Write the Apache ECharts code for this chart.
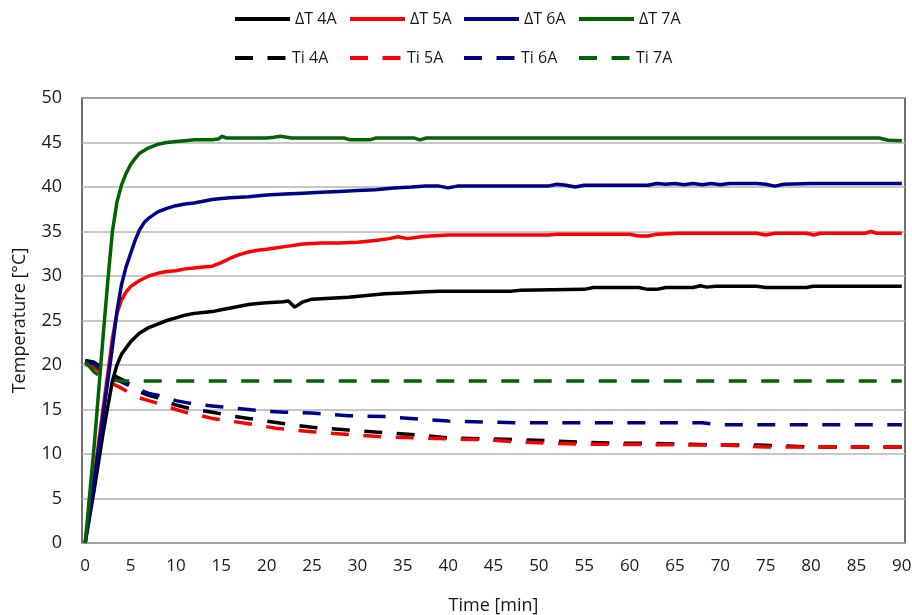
<!DOCTYPE html>
<html>
<head>
<meta charset="utf-8">
<script src="https://cdn.jsdelivr.net/npm/echarts@6/dist/echarts.min.js"></script>
<style>
html,body{margin:0;padding:0;background:#fff;}
#chart{width:912px;height:615px;}
</style>
</head>
<body>
<div id="chart"></div>
<script>
// ---- data: [time (min), temperature (°C)] ----
const dT4A = [[0,0],[1,6],[2,12.5],[3,18.2],[3.5,20],[4,21.2],[5,22.6],[6,23.6],[7,24.2],[8,24.6],[9,25],[10,25.3],[11,25.6],[12,25.8],[13,25.9],[14,26],[15,26.2],[16,26.4],[17,26.6],[18,26.8],[19,26.9],[20,27],[21.8,27.1],[22.4,27.2],[23.1,26.5],[24,27.1],[25,27.4],[27,27.5],[29,27.6],[31,27.8],[33,28],[35,28.1],[37,28.2],[39,28.3],[47,28.3],[48,28.4],[55,28.5],[56,28.7],[61,28.7],[62,28.5],[63,28.5],[64,28.7],[67,28.7],[67.8,28.9],[68.5,28.75],[69.5,28.85],[74,28.85],[75,28.7],[79.5,28.7],[80.2,28.85],[90,28.85]];
const dT5A = [[0,0],[1,7.5],[2,15.3],[2.75,21],[3,23],[3.5,25.8],[4,27.3],[4.5,28.2],[5,28.8],[6,29.5],[7,30],[8,30.3],[9,30.5],[10,30.6],[11,30.8],[12,30.9],[13,31],[14,31.1],[15,31.5],[16,32],[17,32.4],[18,32.7],[19,32.9],[20,33],[22,33.3],[24,33.6],[26,33.7],[28,33.7],[30,33.8],[32,34],[33.5,34.2],[34.5,34.4],[35.5,34.2],[37,34.4],[38,34.5],[40,34.6],[51,34.6],[52,34.7],[60,34.7],[61,34.5],[62,34.5],[63,34.7],[65.5,34.8],[74,34.8],[75,34.6],[76,34.8],[79.5,34.8],[80.3,34.6],[81,34.8],[86,34.8],[86.6,35.0],[87.2,34.8],[90,34.8]];
const dT6A = [[0,0],[1,7],[2,14.5],[3,22],[3.5,26],[4,29],[4.5,31],[5,32.5],[5.5,34],[6,35.2],[6.5,36],[7,36.5],[8,37.2],[9,37.6],[10,37.9],[11,38.1],[12,38.2],[13,38.4],[14,38.6],[15,38.7],[16,38.8],[18,38.9],[20,39.1],[22,39.2],[24,39.3],[26,39.4],[28,39.5],[30,39.6],[32,39.7],[34,39.9],[36,40],[37.5,40.1],[39,40.1],[40,39.9],[41,40.1],[51,40.1],[52,40.3],[53,40.2],[54,40.0],[55,40.2],[62,40.2],[63,40.4],[64,40.3],[65,40.4],[66,40.25],[67,40.4],[68,40.25],[69,40.4],[70,40.25],[71,40.4],[74,40.4],[75,40.3],[76,40.1],[77,40.3],[80,40.4],[90,40.4]];
const dT7A = [[0,0],[1,11],[2,23.5],[2.5,29.5],[3,35],[3.5,38.3],[4,40.2],[4.5,41.5],[5,42.5],[5.5,43.2],[6,43.8],[7,44.4],[8,44.8],[9,45],[10,45.1],[11,45.2],[12,45.3],[14,45.3],[14.7,45.4],[15.1,45.7],[15.6,45.5],[20,45.5],[20.8,45.6],[21.5,45.7],[22.2,45.6],[22.8,45.5],[28.5,45.5],[29.2,45.3],[31.4,45.3],[32,45.5],[36.3,45.5],[36.9,45.3],[37.6,45.5],[87.5,45.5],[88.5,45.25],[90,45.2]];
const ti4A = [[0,20.5],[1,20.3],[2,19.6],[3,18.9],[4,18.4],[5,17.8],[6,17.0],[7,16.6],[8,16.3],[10,15.5],[12,15.0],[14,14.7],[16,14.3],[18,14.0],[20,13.7],[22,13.4],[25,13.0],[29,12.7],[33,12.4],[37,12.1],[40,11.8],[44,11.7],[48,11.6],[51,11.5],[55,11.3],[59,11.2],[62,11.2],[66,11.1],[70,11.0],[74,11.0],[77,10.9],[80,10.8],[90,10.8]];
const ti5A = [[0,20.1],[1,19.7],[2,19.0],[3,17.9],[4,17.4],[5,16.8],[6,16.3],[7,16.0],[8,15.7],[10,15.0],[11,14.7],[12,14.5],[14,14.0],[16,13.7],[18,13.4],[21,12.9],[25,12.5],[29,12.2],[33,11.9],[37,11.8],[40,11.7],[44,11.6],[48,11.35],[51,11.2],[55,11.1],[70,11.0],[75,10.8],[90,10.8]];
const ti6A = [[0,20.4],[1,20.1],[2,19.3],[3,18.5],[4,18.1],[5,17.6],[6,17.2],[7,16.8],[8,16.6],[9,16.3],[10,16.0],[11,15.8],[12,15.6],[14,15.4],[16,15.2],[18,15.0],[20,14.8],[22,14.7],[25,14.6],[29,14.3],[33,14.2],[37,13.9],[40,13.7],[44,13.6],[48,13.5],[68,13.5],[70,13.3],[90,13.3]];
const ti7A = [[0,20.3],[0.5,19.8],[1,19.2],[2,18.5],[3,18.3],[4,18.2],[90,18.2]];

const seriesNames = ['ΔT 4A','ΔT 5A','ΔT 6A','ΔT 7A','Ti 4A','Ti 5A','Ti 6A','Ti 7A'];
const seriesData = [dT4A, dT5A, dT6A, dT7A, ti4A, ti5A, ti6A, ti7A];
const xTicks = [0,5,10,15,20,25,30,35,40,45,50,55,60,65,70,75,80,85,90];

const colors = ['#000000','#ff0000','#00008b','#006400'];
const legendLeft = [233, 348, 462, 577];
const txt = '#1a1a1a';
const mainFont = 'Open Sans, DejaVu Sans, sans-serif';

const series = seriesNames.map((name, i) => ({
  name: name,
  type: 'line',
  data: seriesData[i],
  symbol: 'none',
  smooth: false,
  z: i < 4 ? 3 : 2,
  lineStyle: {
    color: colors[i % 4],
    width: 3.5,
    type: i < 4 ? 'solid' : [18, 14.5]
  },
  itemStyle: { color: colors[i % 4] }
}));

const legends = seriesNames.map((name, i) => ({
  data: [{ name: name, itemStyle: { opacity: 0 } }],
  left: legendLeft[i % 4],
  top: i < 4 ? 11 : 50,
  itemWidth: i < 4 ? 55 : 52,
  itemHeight: 14,
  itemGap: 0,
  padding: 0,
  lineStyle: { width: 4 },
  textStyle: { fontSize: 16, color: txt, fontFamily: mainFont }
}));

const chart = echarts.init(document.getElementById('chart'), null, { renderer: 'canvas' });
chart.setOption({
  animation: false,
  backgroundColor: '#ffffff',
  color: colors,
  legend: legends,
  grid: {
    left: 82, right: 7, top: 98, bottom: 72,
    outerBoundsMode: 'none',
    containLabel: false,
    show: true, borderColor: '#404040', borderWidth: 1.5, backgroundColor: 'transparent'
  },
  xAxis: {
    type: 'value',
    min: -0.35, max: 90.35,
    name: 'Time [min]',
    nameLocation: 'middle',
    nameGap: 54,
    nameTextStyle: { fontSize: 18, color: txt, fontFamily: mainFont },
    axisLine: { show: false },
    axisTick: { show: false },
    splitLine: { show: false },
    axisLabel: {
      customValues: xTicks,
      margin: 15,
      fontSize: 17,
      color: txt,
      fontFamily: mainFont
    }
  },
  yAxis: {
    type: 'value',
    min: 0, max: 50, interval: 5,
    name: 'Temperature [°C]',
    nameLocation: 'middle',
    nameGap: 53,
    nameTextStyle: { fontSize: 18, color: txt, fontFamily: mainFont },
    axisLine: { show: false },
    axisTick: { show: false },
    splitLine: { show: true, lineStyle: { color: '#b3b3b3', width: 1.5 } },
    axisLabel: {
      margin: 20,
      fontSize: 18,
      color: txt,
      fontFamily: mainFont
    }
  },
  series: series
});
</script>
</body>
</html>
